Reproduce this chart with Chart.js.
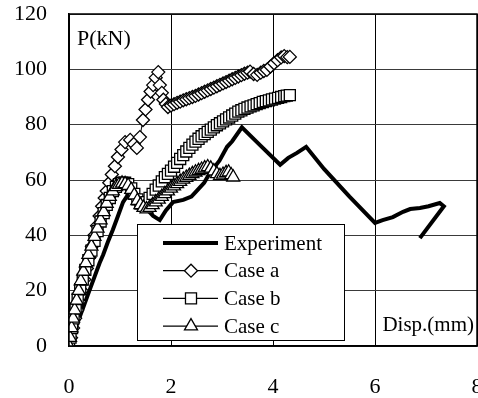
<!DOCTYPE html>
<html>
<head>
<meta charset="utf-8">
<script src="https://cdn.jsdelivr.net/npm/chart.js@4/dist/chart.umd.min.js"></script>
<style>
  html, body { margin: 0; padding: 0; background: #fff; overflow: hidden; }
</style>
</head>
<body>
<canvas id="pdChart" width="478" height="398"></canvas>
<script>
// Kurva beban-perpindahan (P vs Disp.)
const xTicks = [0, 2, 4, 6, 8];
const yTicks = [0, 20, 40, 60, 80, 100, 120];
const seriesNames = ['Experiment', 'Case a', 'Case b', 'Case c'];

const expX = [0, 0.1, 0.2, 0.3, 0.4, 0.5, 0.6, 0.67, 0.76, 0.86, 0.96, 1.06, 1.15, 1.25, 1.35, 1.5, 1.65, 1.78, 1.9, 2.04, 2.24, 2.4, 2.5, 2.65, 2.76, 2.95, 3.1, 3.2, 3.39, 3.75, 4.14, 4.3, 4.47, 4.65, 5.0, 5.5, 6.0, 6.15, 6.35, 6.55, 6.69, 6.88, 7.05, 7.27, 7.35, 6.88];
const expY = [0, 5, 10, 15, 20, 25, 30, 33, 37.5, 42, 47, 52, 54.5, 55, 53.5, 50, 47, 45.5, 49, 52, 52.8, 54, 56, 59, 62.5, 67, 72, 74, 79, 72.5, 65.5, 68, 69.8, 72, 64, 54, 44.5, 45.5, 46.6, 48.5, 49.5, 49.9, 50.5, 51.7, 50.5, 39];

const caseAX = [0, 0.04, 0.08, 0.12, 0.16, 0.2, 0.25, 0.3, 0.35, 0.4, 0.45, 0.5, 0.55, 0.6, 0.65, 0.7, 0.74, 0.79, 0.84, 0.9, 0.96, 1.03, 1.1, 1.2, 1.27, 1.33, 1.39, 1.45, 1.5, 1.55, 1.6, 1.65, 1.7, 1.75, 1.78, 1.82, 1.85, 1.9, 1.94, 2.0, 2.06, 2.12, 2.18, 2.24, 2.3, 2.36, 2.42, 2.48, 2.54, 2.6, 2.66, 2.72, 2.78, 2.84, 2.9, 2.96, 3.02, 3.08, 3.14, 3.2, 3.26, 3.32, 3.38, 3.44, 3.5, 3.55, 3.62, 3.69, 3.76, 3.82, 3.88, 3.95, 4.02, 4.09, 4.16, 4.22, 4.28, 4.33];
const caseAY = [0, 3, 6.5, 10, 13, 16, 20, 24, 28, 32, 36, 40, 43.5, 47, 50.5, 53.5, 56, 59, 62, 65, 68.3, 71, 73.7, 74.5, 73, 71.6, 75.5, 81.7, 85.5, 89, 92, 94.3, 97, 99, 94.3, 91.5, 89, 87.5, 86.4, 86.9, 87.4, 87.9, 88.3, 88.8, 89.2, 89.6, 90, 90.4, 90.9, 91.4, 91.9, 92.4, 92.9, 93.4, 93.9, 94.4, 94.9, 95.4, 95.9, 96.4, 96.9, 97.4, 97.9, 98.4, 98.8, 99.2, 98.3, 98, 98.8, 99.4, 99.8, 101, 102.2, 103.3, 104.3, 104.8, 104.4, 104.5];

const caseBX = [0, 0.03, 0.06, 0.09, 0.13, 0.17, 0.22, 0.27, 0.32, 0.38, 0.44, 0.5, 0.56, 0.62, 0.68, 0.74, 0.8, 0.86, 0.92, 0.98, 1.04, 1.1, 1.16, 1.22, 1.28, 1.34, 1.4, 1.46, 1.52, 1.58, 1.64, 1.7, 1.76, 1.82, 1.88, 1.94, 2.0, 2.06, 2.12, 2.18, 2.24, 2.3, 2.36, 2.42, 2.48, 2.54, 2.6, 2.66, 2.72, 2.78, 2.84, 2.9, 2.96, 3.02, 3.08, 3.14, 3.2, 3.26, 3.32, 3.38, 3.44, 3.5, 3.56, 3.62, 3.68, 3.74, 3.8, 3.86, 3.92, 3.98, 4.04, 4.1, 4.16, 4.22, 4.27, 4.33];
const caseBY = [0, 3, 6.5, 10, 13.5, 17, 20.5, 24, 27.5, 31, 34.5, 38, 41.5, 45, 48, 51, 53.5, 56, 57.5, 58.5, 59, 59, 58.5, 57, 55, 53, 51.5, 51, 52, 53.5, 55, 56.5, 58, 59.5, 61, 62.2, 63.4, 64.8, 66.2, 67.6, 69, 70.3, 71.6, 72.8, 73.9, 74.9, 75.8, 76.6, 77.4, 78.2, 79, 79.8, 80.5, 81.2, 81.9, 82.6, 83.3, 84, 84.7, 85.2, 85.7, 86.2, 86.6, 87, 87.4, 87.8, 88.2, 88.5, 88.8, 89.1, 89.4, 89.7, 90, 90.3, 90.5, 90.7];

const caseCX = [0, 0.02, 0.05, 0.08, 0.11, 0.15, 0.19, 0.23, 0.28, 0.33, 0.38, 0.44, 0.5, 0.56, 0.62, 0.68, 0.74, 0.8, 0.86, 0.92, 0.98, 1.04, 1.1, 1.16, 1.22, 1.28, 1.34, 1.4, 1.46, 1.52, 1.58, 1.64, 1.7, 1.76, 1.82, 1.88, 1.94, 2.0, 2.06, 2.12, 2.18, 2.24, 2.3, 2.36, 2.42, 2.48, 2.54, 2.6, 2.66, 2.72, 2.78, 2.84, 2.9, 2.96, 3.02, 3.08, 3.13, 3.18, 3.22];
const caseCY = [0, 3, 6.5, 10, 13, 16.5, 20, 23.5, 27, 30, 33, 36, 39.5, 42.5, 45.5, 48.5, 51.5, 54, 56, 57.5, 58.3, 58.8, 58.6, 58, 56.5, 54.5, 52.5, 51, 50, 49.5, 50, 51, 52, 53, 54, 55, 56, 57, 57.8, 58.6, 59.4, 60.2, 60.9, 61.6, 62.2, 62.8, 63.3, 63.8, 64.3, 64.7, 64.2, 63.2, 62.2, 61.5, 62, 62.6, 62.8, 61.8, 61];

const serif = 'Liberation Serif, "Times New Roman", serif';

function toPoints(xs, ys) {
    return xs.map((x, i) => ({ x: x, y: ys[i] }));
}

// bingkai, judul sumbu dan legenda digambar sendiri
const extrasPlugin = {
    id: 'extras',
    afterDraw(chart) {
        const ctx = chart.ctx;
        const a = chart.chartArea;
        ctx.save();
        ctx.strokeStyle = '#000';
        ctx.lineWidth = 1.5;
        ctx.strokeRect(a.left, a.top, a.right - a.left, a.bottom - a.top);

        ctx.fillStyle = '#000';
        ctx.font = '22px ' + serif;
        ctx.textBaseline = 'middle';
        ctx.textAlign = 'left';
        ctx.fillText('P(kN)', a.left + 8, a.top + 25);
        ctx.font = '21px ' + serif;
        ctx.textAlign = 'right';
        ctx.fillText('Disp.(mm)', a.right - 3, a.bottom - 21);

        // legenda
        const box = { x: 137, y: 224, w: 207, h: 116 };
        ctx.fillStyle = '#fff';
        ctx.fillRect(box.x, box.y, box.w, box.h);
        ctx.strokeStyle = '#000';
        ctx.lineWidth = 1;
        ctx.strokeRect(box.x + 0.5, box.y + 0.5, box.w, box.h);

        chart.data.datasets.forEach((ds, i) => {
            const cy = box.y + 19 + i * 27.7;
            ctx.strokeStyle = '#000';
            ctx.lineWidth = i === 0 ? 4 : 1.2;
            ctx.beginPath();
            ctx.moveTo(box.x + 26, cy);
            ctx.lineTo(box.x + 81, cy);
            ctx.stroke();
            if (ds.pointRadius > 0) {
                ctx.fillStyle = '#fff';
                ctx.strokeStyle = '#000';
                ctx.lineWidth = ds.pointBorderWidth;
                Chart.helpers.drawPoint(ctx, {
                    pointStyle: ds.pointStyle,
                    radius: ds.pointRadius,
                    rotation: 0,
                    borderWidth: ds.pointBorderWidth
                }, box.x + 54, cy);
            }
            ctx.fillStyle = '#000';
            ctx.font = '21px ' + serif;
            ctx.textAlign = 'left';
            ctx.fillText(seriesNames[i], box.x + 87, cy + 1);
        });
        ctx.restore();
    }
};

const ctx = document.getElementById('pdChart').getContext('2d');
const pdChart = new Chart(ctx, {
    type: 'line',
    data: {
        datasets: [{
            label: seriesNames[0],
            data: toPoints(expX, expY),
            borderColor: '#000',
            borderWidth: 4,
            pointRadius: 0,
            tension: 0,
            order: 4
        }, {
            label: seriesNames[1],
            data: toPoints(caseAX, caseAY),
            borderColor: '#000',
            borderWidth: 1,
            pointStyle: 'rectRot',
            pointRadius: 6.5,
            pointBackgroundColor: '#fff',
            pointBorderColor: '#000',
            pointBorderWidth: 1.3,
            order: 3
        }, {
            label: seriesNames[2],
            data: toPoints(caseBX, caseBY),
            borderColor: '#000',
            borderWidth: 1,
            pointStyle: 'rect',
            pointRadius: 7.8,
            pointBackgroundColor: '#fff',
            pointBorderColor: '#000',
            pointBorderWidth: 1.3,
            order: 2
        }, {
            label: seriesNames[3],
            data: toPoints(caseCX, caseCY),
            borderColor: '#000',
            borderWidth: 1,
            pointStyle: 'triangle',
            pointRadius: 7.5,
            pointBackgroundColor: '#fff',
            pointBorderColor: '#000',
            pointBorderWidth: 1.3,
            order: 1
        }]
    },
    options: {
        responsive: false,
        animation: false,
        devicePixelRatio: 1,
        layout: {
            autoPadding: false,
            padding: { left: 0, right: 1, top: 14, bottom: 0 }
        },
        plugins: {
            legend: { display: false },
            tooltip: { enabled: false }
        },
        scales: {
            x: {
                type: 'linear',
                min: xTicks[0],
                max: xTicks[xTicks.length - 1],
                afterBuildTicks: (s) => { s.ticks = xTicks.map(v => ({ value: v })); },
                afterFit: (s) => { s.paddingLeft = 0; s.paddingRight = 0; s.height = 52; },
                grid: { color: '#000', lineWidth: 1, drawTicks: false },
                border: { color: '#000', width: 1.5 },
                ticks: {
                    padding: 28,
                    color: '#000',
                    maxRotation: 0,
                    font: { family: serif, size: 22 }
                }
            },
            y: {
                min: yTicks[0],
                max: yTicks[yTicks.length - 1],
                afterBuildTicks: (s) => { s.ticks = yTicks.map(v => ({ value: v })); },
                afterFit: (s) => { s.paddingTop = 0; s.paddingBottom = 0; s.width = 69; },
                grid: { color: '#3a3a3a', lineWidth: 1, drawTicks: false },
                border: { color: '#000', width: 1.5 },
                ticks: {
                    padding: 22,
                    color: '#000',
                    font: { family: serif, size: 22 }
                }
            }
        }
    },
    plugins: [extrasPlugin]
});
</script>
</body>
</html>
